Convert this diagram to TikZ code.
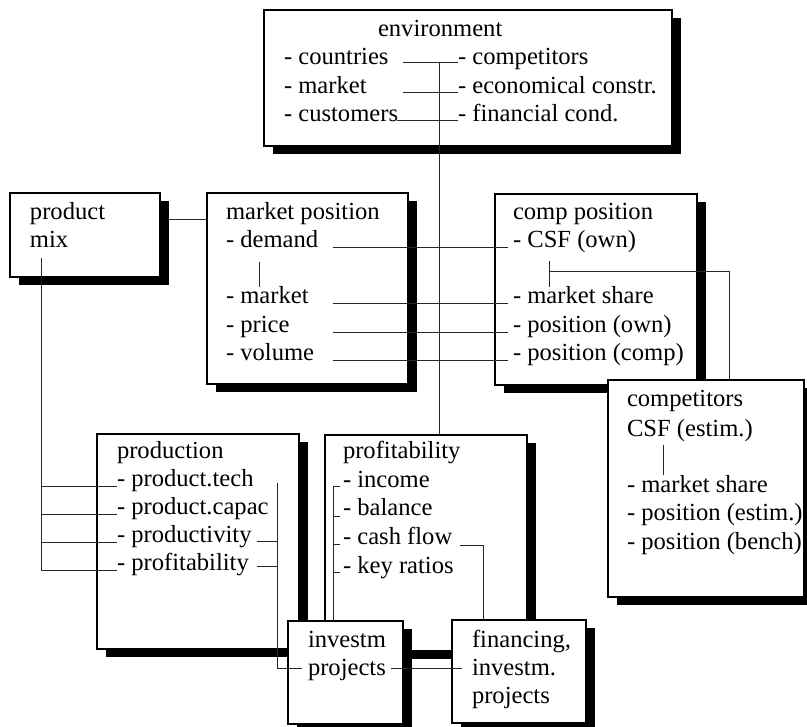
\documentclass[tikz,border=0pt]{standalone}
\usepackage{fontspec}
\setmainfont{Liberation Serif}
\usetikzlibrary{shadows}
\tikzset{
  box/.style={draw, line width=1.6pt, fill=white, inner sep=0pt, outer sep=0pt, anchor=north west,
    general shadow={fill=black, shadow xshift=9pt, shadow yshift=-8pt}},
  txt/.style={anchor=base west, inner sep=0pt, outer sep=0pt, font=\fontsize{24.6}{29}\selectfont},
  conn/.style={line width=1pt, draw=black!85},
}
\begin{document}
\begin{tikzpicture}[x=1pt,y=-1pt]
\useasboundingbox (0,0) rectangle (807,727);
% boxes
\node[box, minimum width=408pt, minimum height=136pt] (env) at (264,10) {};
\node[box, minimum width=150pt, minimum height=84pt] (mix) at (10,193) {};
\node[box, minimum width=201pt, minimum height=191pt] (mkt) at (207,193) {};
\node[box, minimum width=202pt, minimum height=191pt] (comp) at (495,194) {};
\node[box, minimum width=196pt, minimum height=217pt] (cpt) at (608,380) {};
\node[box, minimum width=202pt, minimum height=215pt] (prod) at (97,434) {};
\node[box, minimum width=202pt, minimum height=216pt] (prof) at (325,435) {};
\node[box, minimum width=115pt, minimum height=103pt] (inv) at (288,621) {};
\node[box, minimum width=134pt, minimum height=103pt] (fin) at (452,620) {};
% texts
\node[txt] (envT) at (378,37) {environment};
\node[txt] (e1) at (284,65) {- countries};
\node[txt] (e2) at (284,94) {- market};
\node[txt] (e3) at (284,122) {- customers};
\node[txt] (e4) at (458,65) {- competitors};
\node[txt] (e5) at (458,94) {- economical constr.};
\node[txt] (e6) at (458,122) {- financial cond.};
\node[txt] (mixT) at (30,220) {product};
\node[txt] (mixT2) at (30,248) {mix};
\node[txt] (mkT) at (226,220) {market position};
\node[txt] (m1) at (226,248) {- demand};
\node[txt] (m2) at (226,304) {- market};
\node[txt] (m3) at (226,333) {- price};
\node[txt] (m4) at (226,361) {- volume};
\node[txt] (cT) at (513,220) {comp position};
\node[txt] (c1) at (513,248) {- CSF (own)};
\node[txt] (c2) at (513,304) {- market share};
\node[txt] (c3) at (513,333) {- position (own)};
\node[txt] (c4) at (513,361) {- position (comp)};
\node[txt] (kT) at (627,407) {competitors};
\node[txt] (k1) at (627,437) {CSF (estim.)};
\node[txt] (k2) at (627,493) {- market share};
\node[txt] (k3) at (627,521) {- position (estim.)};
\node[txt] (k4) at (627,550) {- position (bench)};
\node[txt] (pT) at (117,459) {production};
\node[txt] (p1) at (117,487) {- product.tech};
\node[txt] (p2) at (117,515) {- product.capac};
\node[txt] (p3) at (117,543) {- productivity};
\node[txt] (p4) at (117,571) {- profitability};
\node[txt] (fT) at (343,459) {profitability};
\node[txt] (f1) at (343,488) {- income};
\node[txt] (f2) at (343,516) {- balance};
\node[txt] (f3) at (343,545) {- cash flow};
\node[txt] (f4) at (343,573) {- key ratios};
\node[txt] (iT) at (308,647) {investm};
\node[txt] (i2) at (308,675) {projects};
\node[txt] (nT) at (472,647) {financing,};
\node[txt] (n2) at (472,675) {investm.};
\node[txt] (n3) at (472,703) {projects};
% connector points
\coordinate (a1) at (403,63); \coordinate (a2) at (458,63);
\coordinate (b1) at (403,93); \coordinate (b2) at (458,93);
\coordinate (d1) at (397,121); \coordinate (d2) at (458,121);
\coordinate (v1) at (439,63); \coordinate (v2) at (439,435);
\coordinate (mx1) at (169,220); \coordinate (mx2) at (207,220);
\coordinate (mv1) at (41,258); \coordinate (mv2) at (41,571);
\coordinate (q1) at (41,487); \coordinate (q1e) at (117,487);
\coordinate (q2) at (41,515); \coordinate (q2e) at (117,515);
\coordinate (q3) at (41,543); \coordinate (q3e) at (117,543);
\coordinate (q4e) at (117,571);
\coordinate (dm1) at (259,262); \coordinate (dm2) at (259,287);
\coordinate (h1) at (333,248); \coordinate (h1e) at (508,248);
\coordinate (h2) at (333,304); \coordinate (h2e) at (508,304);
\coordinate (h3) at (333,333); \coordinate (h3e) at (508,333);
\coordinate (h4) at (333,361); \coordinate (h4e) at (508,361);
\coordinate (cs1) at (549,261); \coordinate (cs2) at (549,287);
\coordinate (cs3) at (549,272); \coordinate (cs4) at (729,272); \coordinate (cs5) at (729,380);
\coordinate (kv1) at (663,445); \coordinate (kv2) at (663,475);
\coordinate (pb1) at (277,483); \coordinate (pb2) at (277,668); \coordinate (pb3) at (302,668);
\coordinate (pt1) at (257,542); \coordinate (pt1e) at (277,542);
\coordinate (pt2) at (257,567); \coordinate (pt2e) at (277,567);
\coordinate (fb0) at (340,487); \coordinate (fb1) at (333,487); \coordinate (fb2) at (333,621);
\coordinate (ft2) at (333,517); \coordinate (ft2e) at (340,517);
\coordinate (ft3) at (333,545); \coordinate (ft3e) at (340,545);
\coordinate (ft4) at (333,573); \coordinate (ft4e) at (340,573);
\coordinate (cf1) at (460,546); \coordinate (cf2) at (483,546); \coordinate (cf3) at (483,620);
\coordinate (pj1) at (391,668); \coordinate (pj2) at (462,668);
% connectors
\draw[conn] (a1) -- (a2); \draw[conn] (b1) -- (b2); \draw[conn] (d1) -- (d2);
\draw[conn] (v1) -- (v2);
\draw[conn] (mx1) -- (mx2);
\draw[conn] (mv1) -- (mv2);
\draw[conn] (q1) -- (q1e); \draw[conn] (q2) -- (q2e); \draw[conn] (q3) -- (q3e); \draw[conn] (mv2) -- (q4e);
\draw[conn] (dm1) -- (dm2);
\draw[conn] (h1) -- (h1e); \draw[conn] (h2) -- (h2e); \draw[conn] (h3) -- (h3e); \draw[conn] (h4) -- (h4e);
\draw[conn] (cs1) -- (cs2);
\draw[conn] (cs3) -- (cs4) -- (cs5);
\draw[conn] (kv1) -- (kv2);
\draw[conn] (pb1) -- (pb2) -- (pb3);
\draw[conn] (pt1) -- (pt1e); \draw[conn] (pt2) -- (pt2e);
\draw[conn] (fb0) -- (fb1) -- (fb2);
\draw[conn] (ft2) -- (ft2e); \draw[conn] (ft3) -- (ft3e); \draw[conn] (ft4) -- (ft4e);
\draw[conn] (cf1) -- (cf2) -- (cf3);
\draw[conn] (pj1) -- (pj2);
\end{tikzpicture}
\end{document}
